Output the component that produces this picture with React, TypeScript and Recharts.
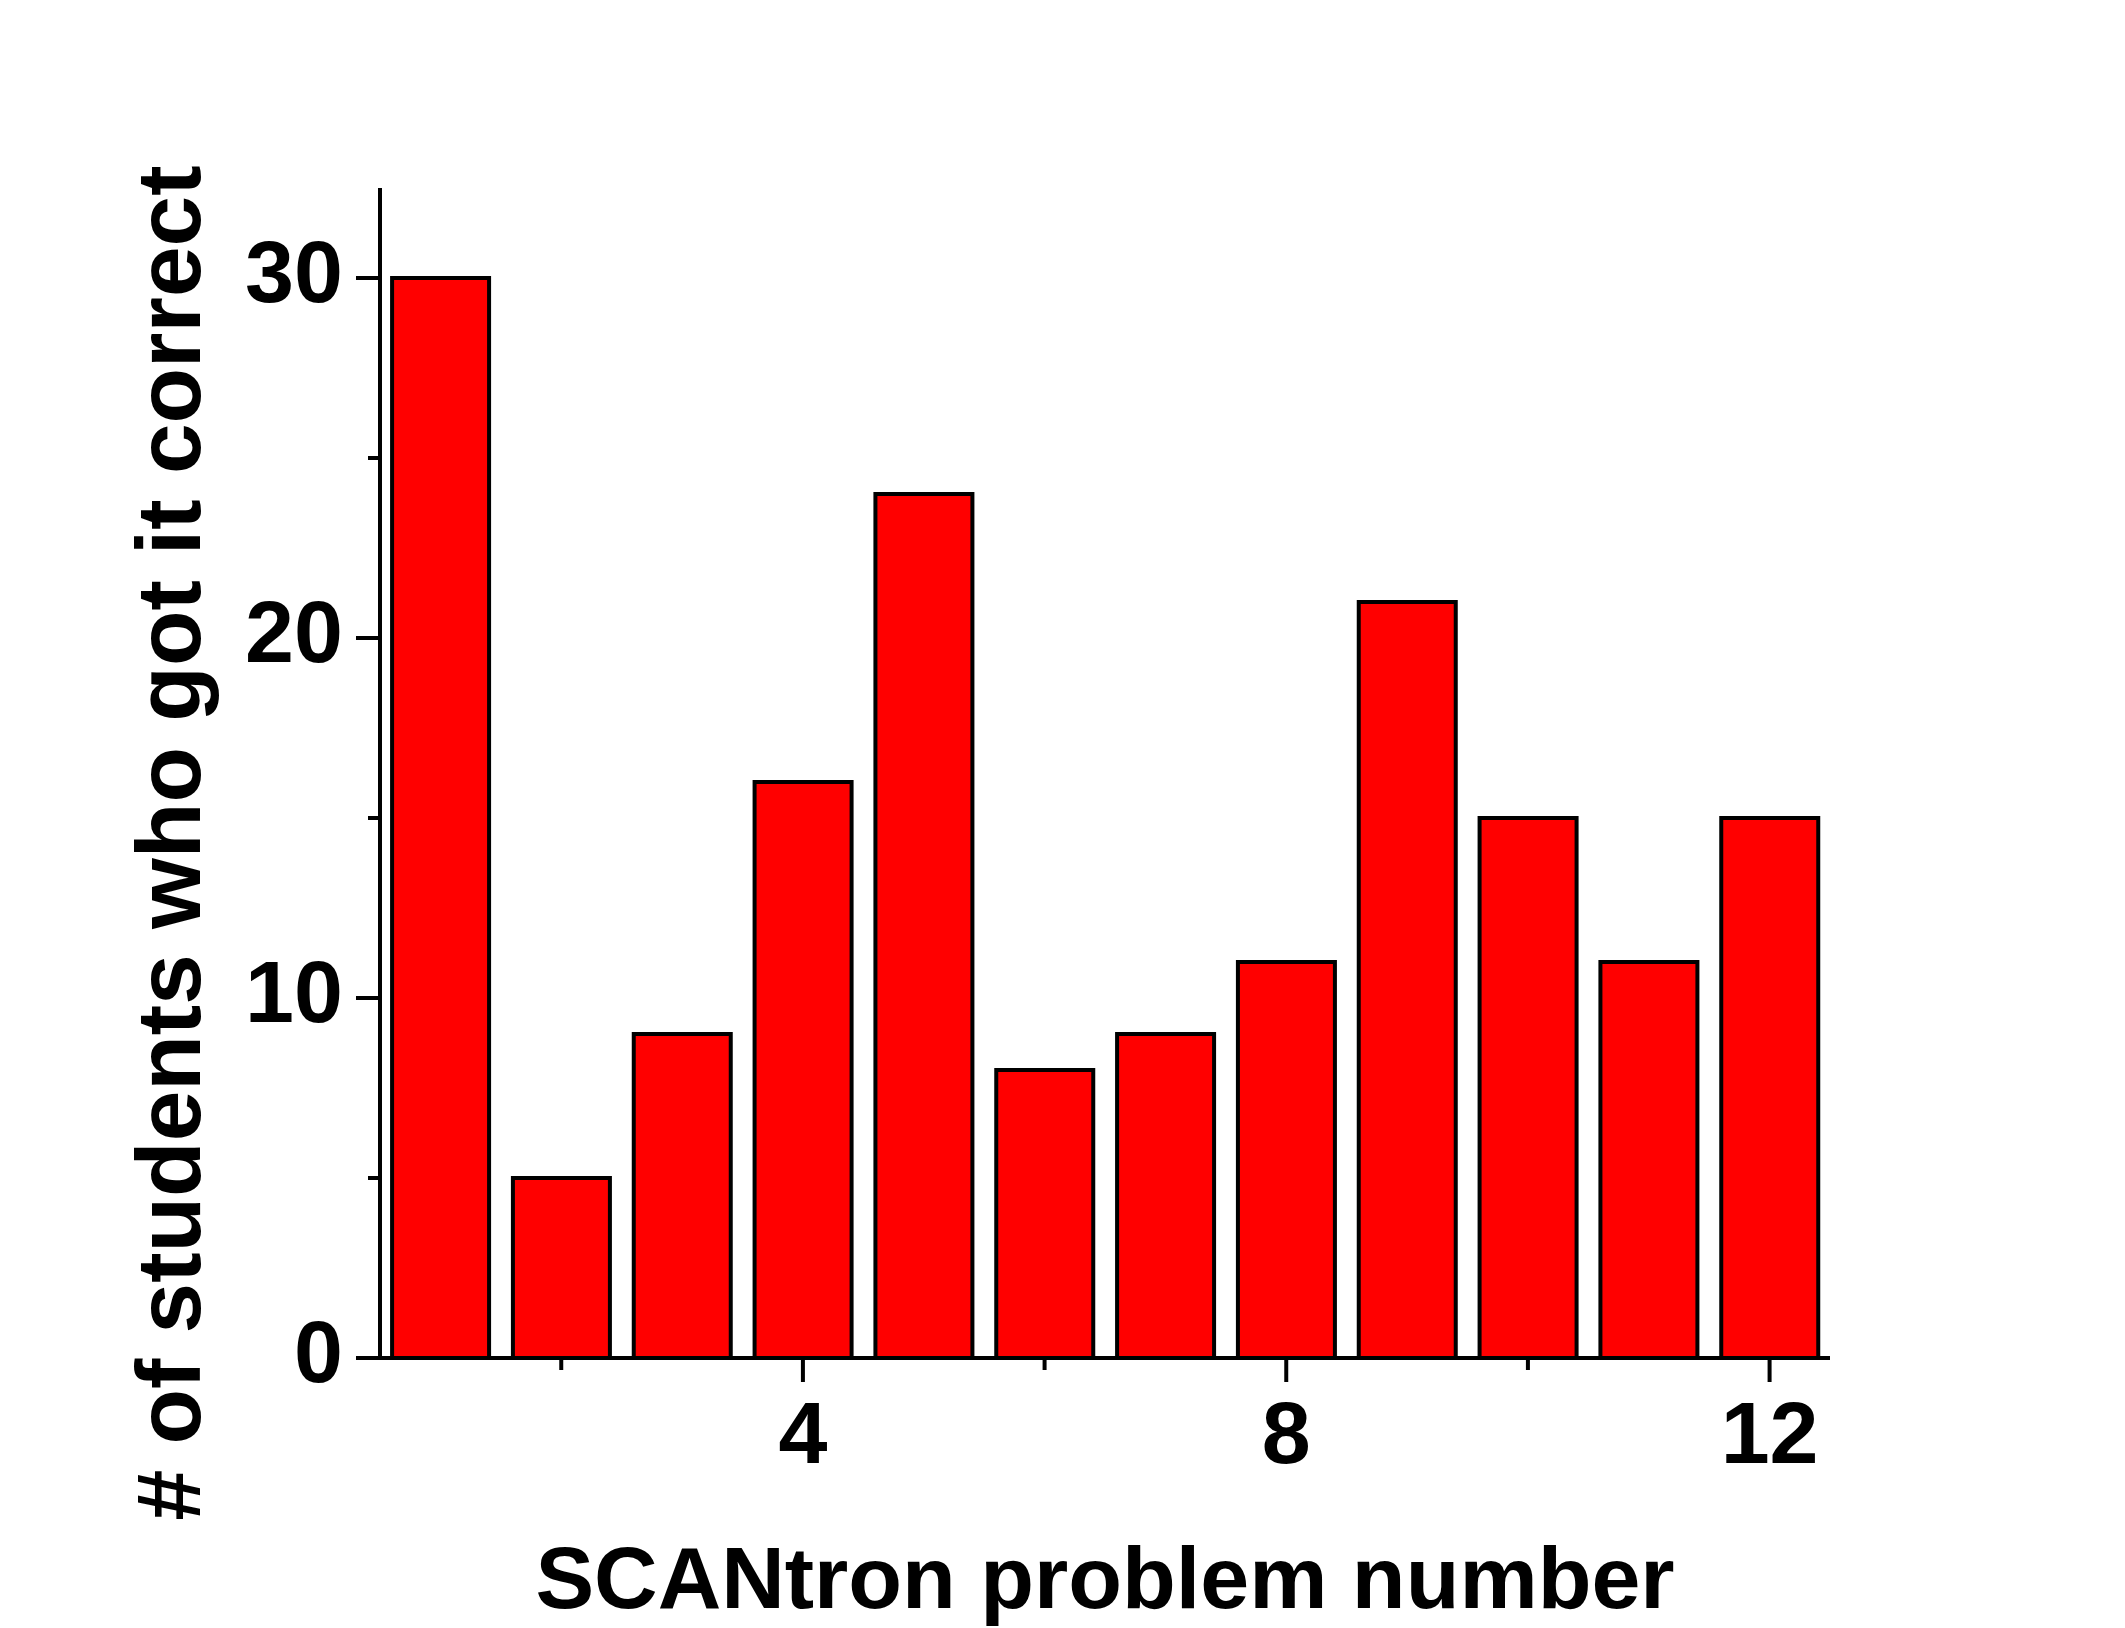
import React from 'react';
import { BarChart, Bar, XAxis, YAxis, Label } from 'recharts';

const problems = [1, 2, 3, 4, 5, 6, 7, 8, 9, 10, 11, 12];
const correctCounts = [30, 5, 9, 16, 24, 8, 9, 11, 21, 15, 11, 15];
const yTicks = [0, 5, 10, 15, 20, 25, 30];
const yLabeled = [0, 10, 20, 30];
const xLabeled = [4, 8, 12];
const xMinor = [2, 6, 10];

const FONT = '"Liberation Sans", Arial, sans-serif';

const chartData = problems.map((p, i) => ({ problem: p, count: correctCounts[i] }));

const XTick = (props: any) => {
  const { x, y, payload } = props;
  const v = Number(payload.value);
  const major = xLabeled.includes(v);
  const minor = xMinor.includes(v);
  if (!major && !minor) return null;
  return (
    <g>
      <line x1={x} x2={x} y1={y} y2={y + (major ? 24 : 12)} stroke="#000" strokeWidth={4} />
      {major && (
        <text x={x} y={y + 105} textAnchor="middle" fontFamily={FONT} fontWeight="bold" fontSize={88} fill="#000">
          {v}
        </text>
      )}
    </g>
  );
};

const YTick = (props: any) => {
  const { x, y, payload } = props;
  const v = Number(payload.value);
  const major = yLabeled.includes(v);
  return (
    <g>
      <line x1={x - (major ? 24 : 12)} x2={x} y1={y} y2={y} stroke="#000" strokeWidth={4} />
      {major && (
        <text x={x - 37} y={y + 24} textAnchor="end" fontFamily={FONT} fontWeight="bold" fontSize={88} fill="#000">
          {v}
        </text>
      )}
    </g>
  );
};

const XLabel = (props: any) => {
  const vb = props.viewBox;
  return (
    <text x={vb.x + vb.width / 2} y={vb.y + 250} textAnchor="middle" fontFamily={FONT} fontWeight="bold" fontSize={88} fill="#000">
      SCANtron problem number
    </text>
  );
};

const YLabel = (props: any) => {
  const vb = props.viewBox;
  const cx = 200;
  const cy = vb.y + vb.height / 2 + 70;
  return (
    <text
      x={cx}
      y={cy}
      transform={`rotate(-90, ${cx}, ${cy})`}
      textAnchor="middle"
      fontFamily={FONT}
      fontWeight="bold"
      fontSize={91}
      fill="#000"
    >
      # of students who got it correct
    </text>
  );
};

export default function App() {
  return (
    <div style={{ position: 'absolute', left: 0, top: 0, background: '#fff' }}>
      <BarChart
        width={2125}
        height={1628}
        data={chartData}
        margin={{ top: 188, right: 295, bottom: 0, left: 0 }}
        barCategoryGap="10%"
      >
        <XAxis
          dataKey="problem"
          type="category"
          height={270}
          interval={0}
          tickSize={0}
          tickMargin={0}
          tickLine={false}
          tick={<XTick />}
          axisLine={{ stroke: '#000', strokeWidth: 4 }}
        >
          <Label content={<XLabel />} />
        </XAxis>
        <YAxis
          type="number"
          domain={[0, 32.5]}
          ticks={yTicks}
          width={380}
          interval={0}
          tickSize={0}
          tickMargin={0}
          tickLine={false}
          tick={<YTick />}
          axisLine={{ stroke: '#000', strokeWidth: 4 }}
        >
          <Label content={<YLabel />} />
        </YAxis>
        <Bar dataKey="count" fill="#ff0000" stroke="#000" strokeWidth={4} isAnimationActive={false} />
      </BarChart>
    </div>
  );
}
